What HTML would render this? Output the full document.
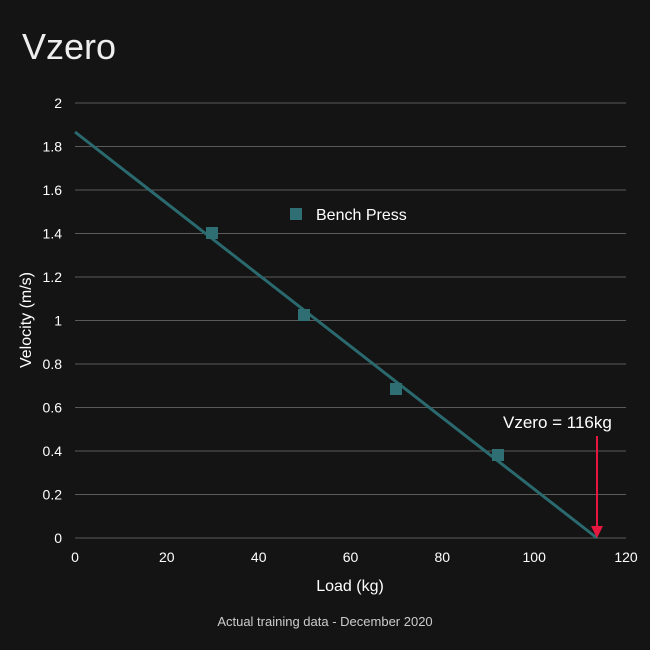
<!DOCTYPE html>
<html><head><style>
body{margin:0;background:#141414;}
svg{display:block;font-family:"Liberation Sans",sans-serif;}
</style></head><body>
<svg width="650" height="650" xmlns="http://www.w3.org/2000/svg">
<rect width="650" height="650" fill="#141414"/>
<text x="22" y="59" fill="#eeeeee" font-size="36">Vzero</text>
<g stroke="#5a5a5a" stroke-width="1">
<line x1="75" x2="626" y1="103" y2="103"/>
<line x1="75" x2="626" y1="146.5" y2="146.5"/>
<line x1="75" x2="626" y1="190" y2="190"/>
<line x1="75" x2="626" y1="233.5" y2="233.5"/>
<line x1="75" x2="626" y1="277" y2="277"/>
<line x1="75" x2="626" y1="320.5" y2="320.5"/>
<line x1="75" x2="626" y1="364" y2="364"/>
<line x1="75" x2="626" y1="407.5" y2="407.5"/>
<line x1="75" x2="626" y1="451" y2="451"/>
<line x1="75" x2="626" y1="494.5" y2="494.5"/>
<line x1="75" x2="626" y1="538" y2="538"/>
</g>
<g fill="#ffffff" font-size="14" text-anchor="end">
<text x="62" y="108">2</text>
<text x="62" y="151.5">1.8</text>
<text x="62" y="195">1.6</text>
<text x="62" y="238.5">1.4</text>
<text x="62" y="282">1.2</text>
<text x="62" y="325.5">1</text>
<text x="62" y="369">0.8</text>
<text x="62" y="412.5">0.6</text>
<text x="62" y="456">0.4</text>
<text x="62" y="499.5">0.2</text>
<text x="62" y="543">0</text>
</g>
<g fill="#ffffff" font-size="14" text-anchor="middle">
<text x="75" y="562">0</text>
<text x="166.8" y="562">20</text>
<text x="258.7" y="562">40</text>
<text x="350.5" y="562">60</text>
<text x="442.3" y="562">80</text>
<text x="534.2" y="562">100</text>
<text x="626" y="562">120</text>
<text x="350" y="591" font-size="16">Load (kg)</text>
<text x="325" y="626" font-size="13" fill="#cccccc">Actual training data - December 2020</text>
</g>
<text transform="translate(31,320) rotate(-90)" fill="#ffffff" font-size="16" text-anchor="middle">Velocity (m/s)</text>
<line x1="75" y1="132" x2="597" y2="538" stroke="#2a6a6e" stroke-width="3"/>
<g fill="#2f6f73">
<rect x="206" y="227" width="12" height="12"/>
<rect x="298" y="309" width="12" height="12"/>
<rect x="390" y="383" width="12" height="12"/>
<rect x="492" y="449" width="12" height="12"/>
<rect x="290" y="208" width="12" height="12"/>
</g>
<text x="316" y="220" fill="#ffffff" font-size="16">Bench Press</text>
<text x="503" y="428" fill="#ffffff" font-size="17">Vzero = 116kg</text>
<line x1="597" y1="436" x2="597" y2="528" stroke="#e8173f" stroke-width="2"/>
<polygon points="591,526 603,526 597,538" fill="#e8173f"/>
</svg>
</body></html>
